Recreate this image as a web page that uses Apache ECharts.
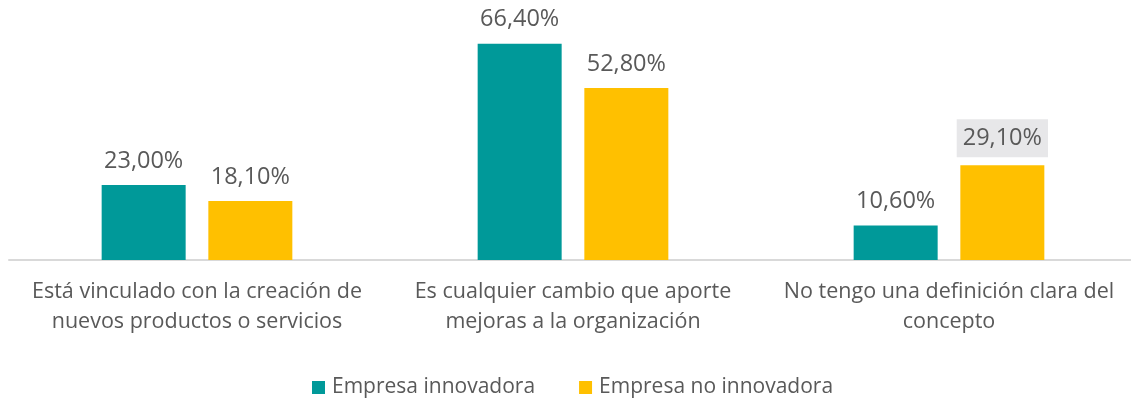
<!DOCTYPE html>
<html>
<head>
<meta charset="utf-8">
<script src="https://cdn.jsdelivr.net/npm/echarts@6/dist/echarts.min.js"></script>
<style>
  html, body { margin: 0; padding: 0; background: #ffffff; }
  #chart { width: 1131px; height: 405px; }
</style>
</head>
<body>
<div id="chart"></div>
<script>
  // categorias y valores (%)
  var categories = [
    'Está vinculado con la creación de\nnuevos productos o servicios',
    'Es cualquier cambio que aporte\nmejoras a la organización',
    'No tengo una definición clara del\nconcepto'
  ];
  var innovadora = [23.0, 66.4, 10.6];
  var noInnovadora = [18.1, 52.8, 29.1];
  var seriesNames = ['Empresa innovadora', 'Empresa no innovadora'];

  var textColor = '#595959';
  var fontFamily = '"Open Sans", Lato, sans-serif';

  function fmt(p) {
    return p.value.toFixed(2).replace('.', ',') + '%';
  }

  var myChart = echarts.init(document.getElementById('chart'));
  var option = {
    animation: false,
    textStyle: {fontFamily: fontFamily},
    grid: {left: 9, width: 1128, top: 32, height: 228, containLabel: false, outerBoundsMode: 'none'},
    legend: {
      bottom: 2,
      left: 307,
      itemWidth: 13,
      itemHeight: 13,
      itemGap: 44,
      icon: 'rect',
      textStyle: {color: textColor, fontSize: 21, fontFamily: fontFamily, padding: [0, 0, 0, 2]},
      data: seriesNames
    },
    xAxis: {
      type: 'category',
      data: categories,
      axisTick: {show: false},
      axisLine: {lineStyle: {color: '#d9d9d9', width: 2}},
      axisLabel: {color: textColor, fontSize: 21.5, lineHeight: 30, margin: 17, interval: 0}
    },
    yAxis: {
      type: 'value',
      min: 0,
      max: 70,
      show: false,
      splitLine: {show: false}
    },
    series: [{
      name: seriesNames[0],
      type: 'bar',
      data: innovadora,
      barWidth: 84,
      barGap: '27%',
      itemStyle: {color: '#009999'},
      label: {show: true, position: 'top', distance: 12, color: textColor, fontSize: 23.5, formatter: fmt}
    }, {
      name: seriesNames[1],
      type: 'bar',
      data: noInnovadora.map(function (v, i) {
        if (i === 2) {
          return {value: v, label: {backgroundColor: '#e7e7e9', padding: [7, 6, 7, 6], distance: 8}};
        }
        return v;
      }),
      barWidth: 84,
      itemStyle: {color: '#ffc000'},
      label: {show: true, position: 'top', distance: 12, color: textColor, fontSize: 23.5, formatter: fmt}
    }]
  };
  myChart.setOption(option);
</script>
</body>
</html>
